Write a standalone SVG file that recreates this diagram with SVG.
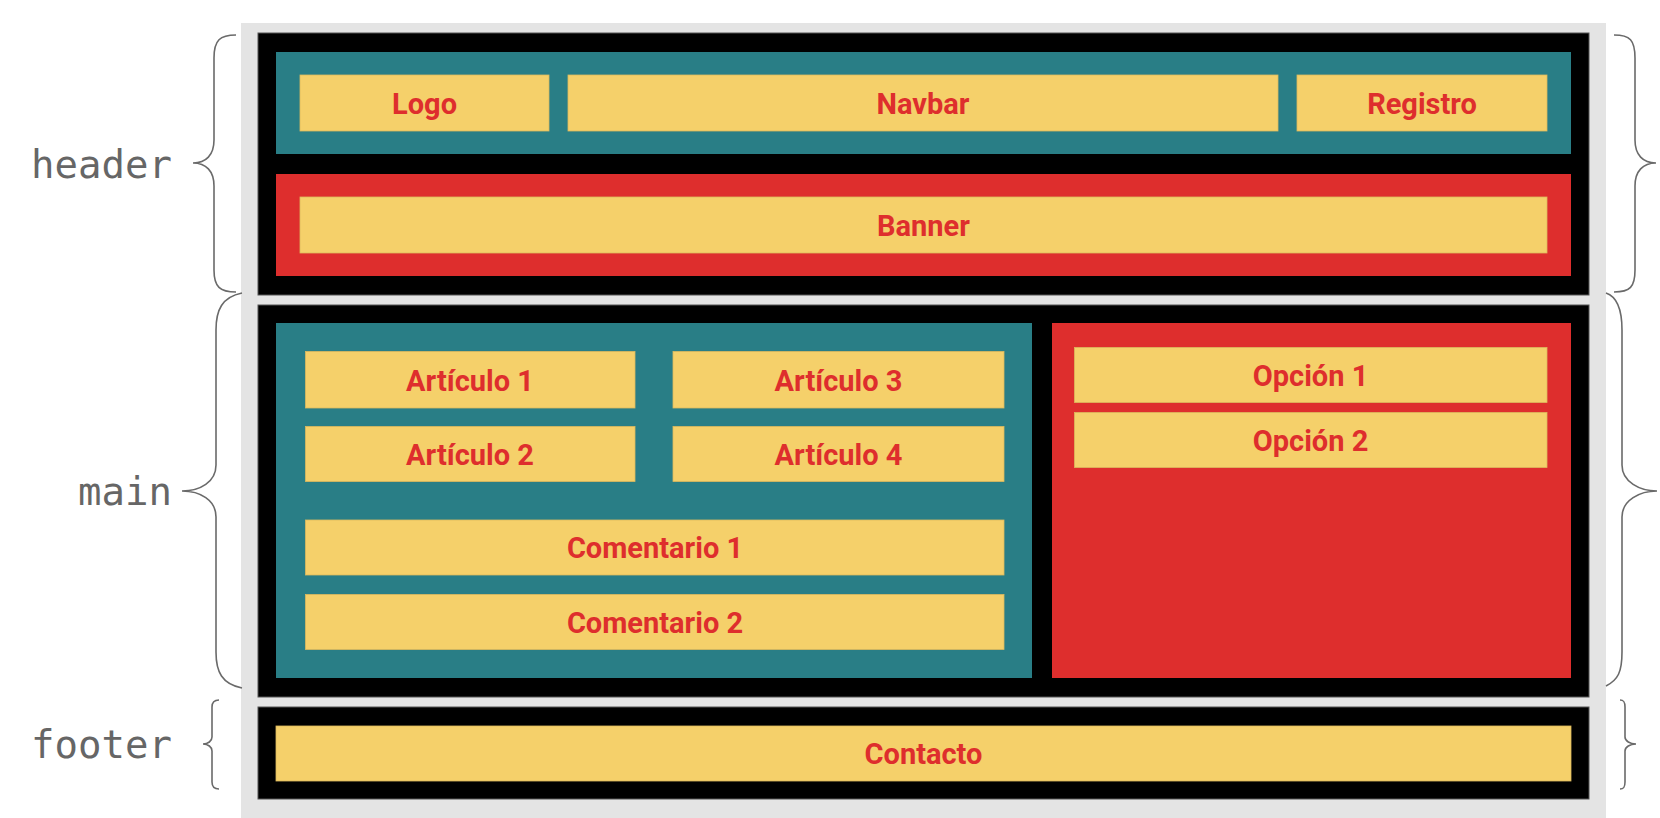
<svg xmlns="http://www.w3.org/2000/svg" width="1660" height="818" viewBox="0 0 1660 818">
<style>
.bg{fill:#e4e4e4}
.blk{fill:#000;stroke:#555;stroke-width:1}
.teal{fill:#297e86}
.red{fill:#de2e2d}
.yel{fill:#f5d06a;stroke:#dcb95e;stroke-width:0.8}
.t{font-family:Roboto,"Liberation Sans",sans-serif;font-weight:700;font-size:29px;fill:#de2e2d;text-anchor:middle}
.lbl{font-family:"DejaVu Sans Mono","Liberation Mono",monospace;font-size:39px;fill:#666;text-anchor:end}
.br{fill:none;stroke:#6a6a6a;stroke-width:1.6}
</style>
<rect x="0" y="0" width="1660" height="818" fill="#fff"/>
<rect class="bg" x="241" y="23" width="1365" height="795"/>

<g id="header">
<rect class="blk" x="258" y="33" width="1331" height="262"/>
<rect class="teal" x="276" y="52" width="1295" height="102"/>
<rect class="red" x="276" y="174" width="1295" height="102"/>
</g>
<g id="logo"><rect class="yel" x="300" y="75" width="249" height="56"/><text class="t" x="424.5" y="114">Logo</text></g>
<g id="navbar"><rect class="yel" x="568" y="75" width="710" height="56"/><text class="t" x="923" y="114">Navbar</text></g>
<g id="registro"><rect class="yel" x="1297" y="75" width="250" height="56"/><text class="t" x="1422" y="114">Registro</text></g>
<g id="banner"><rect class="yel" x="300" y="197" width="1247" height="56"/><text class="t" x="923.5" y="236">Banner</text></g>

<g id="main">
<rect class="blk" x="258" y="305" width="1331" height="392"/>
<rect class="teal" x="276" y="323" width="756" height="355"/>
<rect class="red" x="1052" y="323" width="519" height="355"/>
</g>
<g id="articulo1"><rect class="yel" x="305.5" y="351.5" width="329.5" height="56.5"/><text class="t" x="470" y="391">Artículo 1</text></g>
<g id="articulo3"><rect class="yel" x="673" y="351.5" width="331" height="56.5"/><text class="t" x="838.5" y="391">Artículo 3</text></g>
<g id="articulo2"><rect class="yel" x="305.5" y="426.5" width="329.5" height="55"/><text class="t" x="470" y="465">Artículo 2</text></g>
<g id="articulo4"><rect class="yel" x="673" y="426.5" width="331" height="55"/><text class="t" x="838.5" y="465">Artículo 4</text></g>
<g id="comentario1"><rect class="yel" x="305.5" y="520" width="698.5" height="55"/><text class="t" x="655" y="558">Comentario 1</text></g>
<g id="comentario2"><rect class="yel" x="305.5" y="594.5" width="698.5" height="55"/><text class="t" x="655" y="632.5">Comentario 2</text></g>
<g id="opcion1"><rect class="yel" x="1074.5" y="347.5" width="472.5" height="55"/><text class="t" x="1310.5" y="386">Opción 1</text></g>
<g id="opcion2"><rect class="yel" x="1074.5" y="412.5" width="472.5" height="55"/><text class="t" x="1310.5" y="451">Opción 2</text></g>

<g id="footer">
<rect class="blk" x="258" y="707" width="1331" height="92"/>
</g>
<g id="contacto"><rect class="yel" x="276" y="726" width="1295" height="55"/><text class="t" x="923.5" y="764">Contacto</text></g>

<g id="labels">
<text class="lbl" x="172" y="178">header</text>
<text class="lbl" x="172" y="505">main</text>
<text class="lbl" x="172" y="758">footer</text>
</g>

<g id="connectors">
<path class="br" d="M236 35 C220 35 214 40 214 58 L214 140 C214 155 206 163 193 163 C206 163 214 171 214 186 L214 270 C214 287 220 292 236 292"/>
<path class="br" d="M1614 35 C1630 35 1635 40 1635 58 L1635 140 C1635 155 1643 163 1656 163 C1643 163 1635 171 1635 186 L1635 270 C1635 287 1630 292 1614 292"/>
<path class="br" d="M242 293 C222 297 216 310 216 330 L216 465 C216 482 200 491 182 491 C200 491 216 500 216 517 L216 652 C216 672 222 684 242 688"/>
<path class="br" d="M1606 293 C1618 297 1622 310 1622 330 L1622 465 C1622 482 1640 491 1657 491 C1640 491 1622 500 1622 517 L1622 652 C1622 672 1618 680 1606 686"/>
<path class="br" d="M219 700 C214 700 212 702 212 707 L212 737 C212 741 208 744 203 744 C208 744 212 747 212 751 L212 782 C212 787 214 789 219 789"/>
<path class="br" d="M1620 700 C1624 700 1625 702 1625 707 L1625 737 C1625 741 1630 744 1636 744 C1630 744 1625 747 1625 751 L1625 782 C1625 787 1624 789 1620 789"/>
</g>
</svg>
